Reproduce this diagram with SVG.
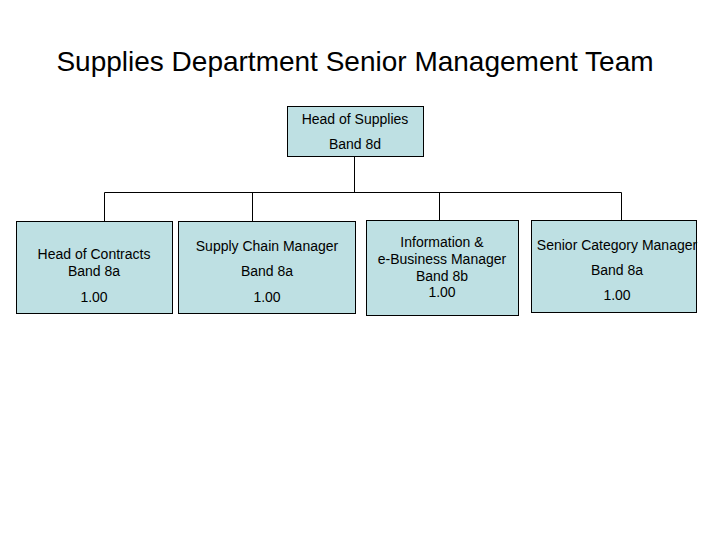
<svg xmlns="http://www.w3.org/2000/svg" width="720" height="540" viewBox="0 0 720 540">
<style>
.box{fill:#BEE0E3;stroke:#000;stroke-width:1}
.t{font-family:"Liberation Sans",Arial,sans-serif;font-size:14px;fill:#000;text-anchor:middle}
.title{font-family:"Liberation Sans",Arial,sans-serif;font-size:28px;fill:#000;text-anchor:middle}
.c{fill:none;stroke:#000;stroke-width:1}
</style>
<rect width="720" height="540" fill="#fff"/>
<text class="title" x="355" y="71">Supplies Department Senior Management Team</text>
<g id="connectors">
<path class="c" d="M354.5 156V192.5M104.5 192.5H621.5M104.5 192.5V221M252.5 192.5V221M439.5 192.5V220M621.5 192.5V220"/>
</g>
<g id="head">
<rect class="box" x="287.5" y="106.5" width="136" height="50"/>
<text class="t" x="355" y="124">Head of Supplies</text>
<text class="t" x="355" y="149">Band 8d</text>
</g>
<g id="contracts">
<rect class="box" x="16.5" y="221.5" width="156" height="92"/>
<text class="t" x="94" y="259">Head of Contracts</text>
<text class="t" x="94" y="276">Band 8a</text>
<text class="t" x="94" y="302">1.00</text>
</g>
<g id="supplychain">
<rect class="box" x="178.5" y="221.5" width="177" height="92"/>
<text class="t" x="267" y="251">Supply Chain Manager</text>
<text class="t" x="267" y="276">Band 8a</text>
<text class="t" x="267" y="302">1.00</text>
</g>
<g id="information">
<rect class="box" x="366.5" y="220.5" width="152" height="95"/>
<text class="t" x="442" y="247">Information &amp;</text>
<text class="t" x="442" y="264">e-Business Manager</text>
<text class="t" x="442" y="281">Band 8b</text>
<text class="t" x="442" y="297">1.00</text>
</g>
<g id="category">
<rect class="box" x="531.5" y="220.5" width="165" height="92"/>
<text class="t" x="617" y="250">Senior Category Manager</text>
<text class="t" x="617" y="275">Band 8a</text>
<text class="t" x="617" y="300">1.00</text>
</g>
</svg>
